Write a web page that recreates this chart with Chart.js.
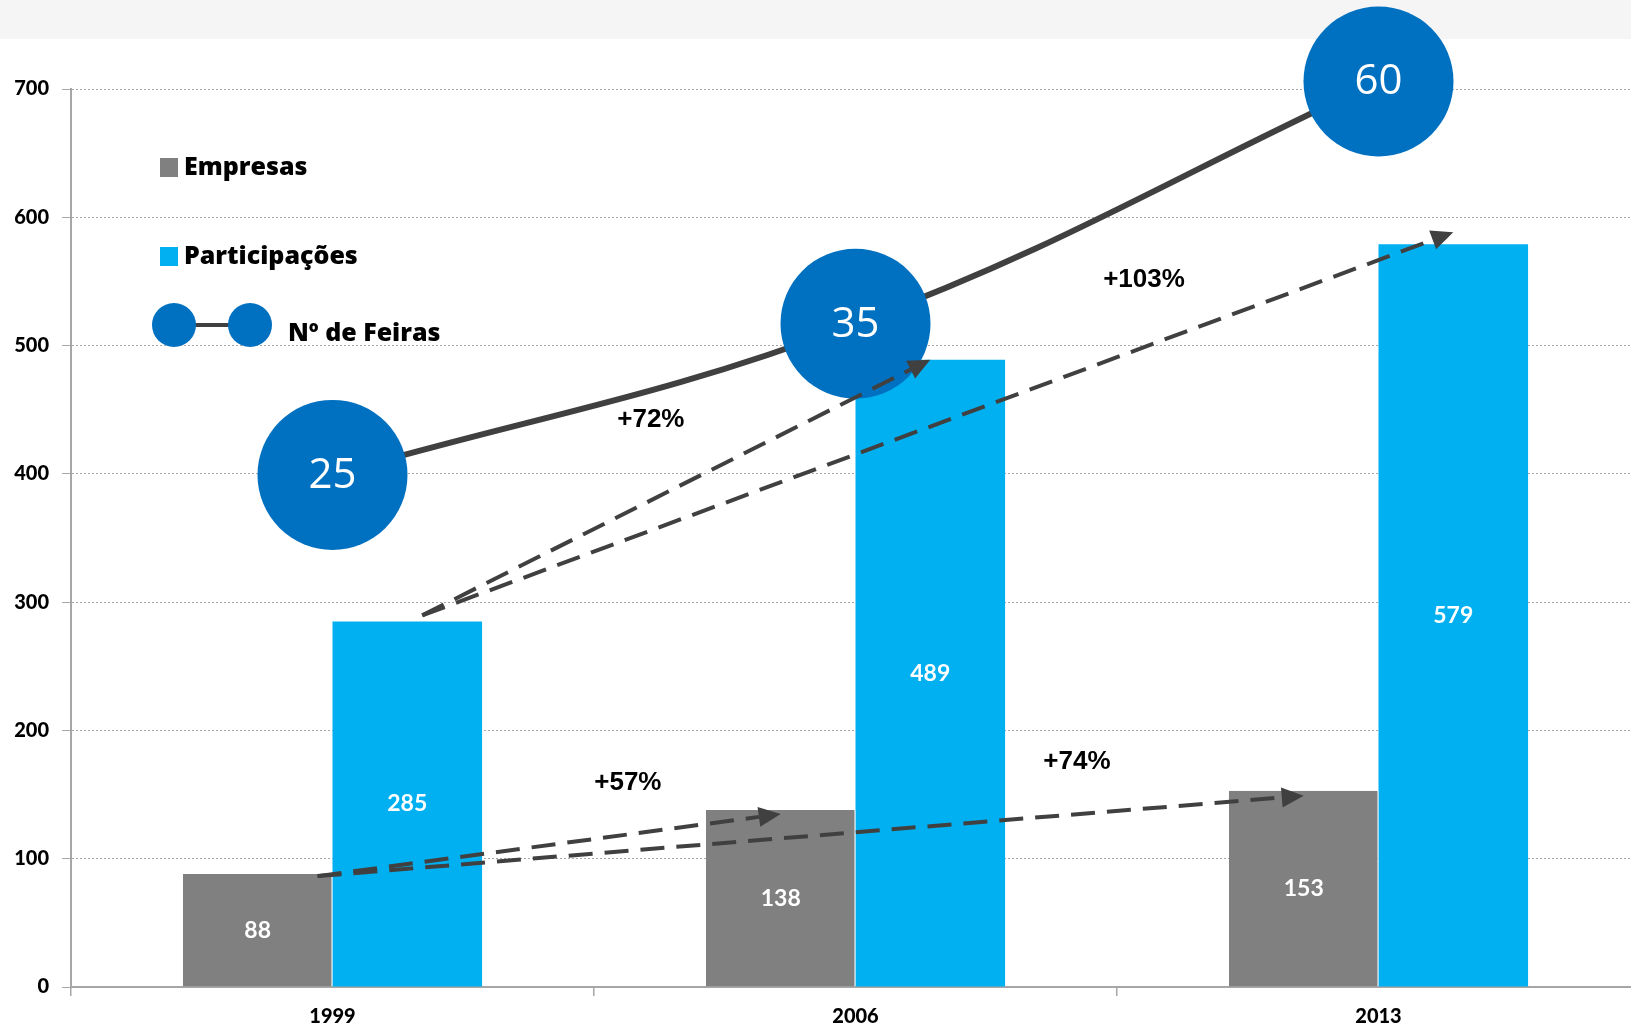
<!DOCTYPE html>
<html>
<head>
<meta charset="utf-8">
<script src="https://cdn.jsdelivr.net/npm/chart.js@4.4.1/dist/chart.umd.min.js"></script>
<style>
    html, body { margin: 0; padding: 0; overflow: hidden; background: #fff; width: 1631px; height: 1028px; }
    #band { position: absolute; left: 0; top: 0; width: 1631px; height: 39px; background: #f5f5f5; }
    #wrap { position: absolute; left: 0; top: 0; width: 1640px; height: 1028px; }
</style>
</head>
<body>
<div id="band"></div>
<div id="wrap"><canvas id="feirasChart"></canvas></div>
<script>
const years = ['1999', '2006', '2013'];
const empresas = [88, 138, 153];
const participacoes = [285, 489, 579];
const feiras = [25, 35, 60];
const yTicks = [0, 100, 200, 300, 400, 500, 600, 700];

const GREY = '#808080';
const BLUE = '#00B0F0';
const DARK_BLUE = '#0070C0';
const LINE = '#404040';

// growth arrows between bars (dataset index, from category, to category) + label placement
const arrows = [
    { ds: 1, from: 0, to: 1, fx: 0.4, sy: 2, ey: 4, t: 0.67, dy: 52 },
    { ds: 1, from: 0, to: 2, fx: 0.4, sy: 2, ey: 5, t: 0.77, dy: 52 },
    { ds: 2, from: 0, to: 1, fx: 0.1, sy: -6, ey: 0, t: 0.45, dy: 80 },
    { ds: 2, from: 0, to: 2, fx: 0.1, sy: -6, ey: -12, t: 0.70, dy: 67 }
];

function drawArrow(ctx, x1, y1, x2, y2) {
    const ang = Math.atan2(y2 - y1, x2 - x1);
    const head = 22, hw = 10;
    const bx = x2 - head * Math.cos(ang);
    const by = y2 - head * Math.sin(ang);
    ctx.save();
    ctx.strokeStyle = LINE;
    ctx.lineWidth = 4;
    ctx.setLineDash([24, 12]);
    ctx.beginPath();
    ctx.moveTo(x1, y1);
    ctx.lineTo(bx, by);
    ctx.stroke();
    ctx.setLineDash([]);
    ctx.fillStyle = LINE;
    ctx.beginPath();
    ctx.moveTo(x2, y2);
    ctx.lineTo(bx + hw * Math.sin(ang), by - hw * Math.cos(ang));
    ctx.lineTo(bx - hw * Math.sin(ang), by + hw * Math.cos(ang));
    ctx.closePath();
    ctx.fill();
    ctx.restore();
}

const overlay = {
    id: 'overlay',
    afterDatasetsDraw(chart) {
        const ctx = chart.ctx;
        ctx.save();
        ctx.textAlign = 'center';
        ctx.textBaseline = 'middle';

        // values inside the bars
        ctx.font = 'bold 23px Lato';
        ctx.fillStyle = '#fff';
        [1, 2].forEach(function (i) {
            chart.getDatasetMeta(i).data.forEach(function (bar, j) {
                ctx.fillText(chart.data.datasets[i].data[j], bar.x, (bar.y + bar.base) / 2);
            });
        });

        // growth arrows
        arrows.forEach(function (a) {
            const bars = chart.getDatasetMeta(a.ds).data;
            const vals = chart.data.datasets[a.ds].data;
            const b0 = bars[a.from], b1 = bars[a.to];
            const x1 = b0.x + a.fx * b0.width, y1 = b0.y + a.sy;
            const x2 = b1.x, y2 = b1.y + a.ey;
            drawArrow(ctx, x1, y1, x2, y2);
            const pct = Math.round((vals[a.to] / vals[a.from] - 1) * 100);
            ctx.font = 'bold 26px "Liberation Sans Narrow", "Liberation Sans"';
            ctx.fillStyle = '#000';
            ctx.fillText('+' + pct + '%', x1 + (x2 - x1) * a.t, y1 + (y2 - y1) * a.t - a.dy);
        });

        // numbers in the bubbles
        ctx.font = '42px "Open Sans"';
        ctx.fillStyle = '#fff';
        chart.getDatasetMeta(0).data.forEach(function (pt, j) {
            ctx.fillText(feiras[j], pt.x, pt.y + 1);
        });
        ctx.restore();
    },
    afterDraw(chart) {
        const ctx = chart.ctx;
        const ds = chart.data.datasets;
        ctx.save();
        ctx.font = '800 25px "Open Sans"';
        ctx.textBaseline = 'alphabetic';
        ctx.textAlign = 'left';

        ctx.fillStyle = ds[1].backgroundColor;
        ctx.fillRect(160, 158, 18, 19);
        ctx.fillStyle = '#000';
        ctx.fillText(ds[1].label, 184, 175);

        ctx.fillStyle = ds[2].backgroundColor;
        ctx.fillRect(160, 247, 18, 19);
        ctx.fillStyle = '#000';
        ctx.fillText(ds[2].label, 184, 264);

        ctx.strokeStyle = LINE;
        ctx.lineWidth = 4;
        ctx.beginPath();
        ctx.moveTo(174, 325);
        ctx.lineTo(250, 325);
        ctx.stroke();
        ctx.fillStyle = DARK_BLUE;
        [174, 250].forEach(function (cx) {
            ctx.beginPath();
            ctx.arc(cx, 325, 22, 0, Math.PI * 2);
            ctx.fill();
        });
        ctx.fillStyle = '#000';
        ctx.fillText(ds[0].label, 288, 341);
        ctx.restore();
    }
};

const tickFont = { family: 'Lato', weight: '900', size: 20 };

new Chart(document.getElementById('feirasChart'), {
    type: 'bar',
    data: {
        labels: years,
        datasets: [
            {
                type: 'line',
                label: 'Nº de Feiras',
                data: feiras,
                yAxisID: 'y2',
                order: 0,
                borderColor: LINE,
                borderWidth: 6,
                tension: 0.4,
                pointRadius: 75,
                pointHoverRadius: 75,
                pointBackgroundColor: DARK_BLUE,
                pointBorderWidth: 0,
                clip: false
            },
            {
                label: 'Empresas',
                data: empresas,
                backgroundColor: GREY,
                borderColor: '#ffffff',
                borderWidth: { right: 1 },
                order: 1,
                categoryPercentage: 0.572,
                barPercentage: 1.0
            },
            {
                label: 'Participações',
                data: participacoes,
                backgroundColor: BLUE,
                order: 1,
                categoryPercentage: 0.572,
                barPercentage: 1.0
            }
        ]
    },
    options: {
        responsive: true,
        maintainAspectRatio: false,
        animation: false,
        layout: { autoPadding: false, padding: { top: 89, left: 0, right: 0, bottom: 0 } },
        plugins: {
            legend: { display: false },
            tooltip: { enabled: false }
        },
        scales: {
            x: {
                grid: { offset: true, drawOnChartArea: false, tickLength: 9, color: '#a6a6a6', lineWidth: 1.5 },
                border: { color: '#a6a6a6', width: 2 },
                ticks: { color: '#000', font: tickFont, padding: 9 },
                afterFit: function (s) { s.height = 41; }
            },
            y: {
                min: 0,
                max: 700,
                afterBuildTicks: function (s) { s.ticks = yTicks.map(v => ({ value: v })); },
                grid: {
                    color: c => c.tick && c.tick.value === 0 ? 'rgba(0,0,0,0)' : '#a8a8a8',
                    tickColor: '#a6a6a6',
                    tickLength: 9,
                    tickBorderDash: [1, 0]
                },
                border: { color: '#a6a6a6', width: 2, dash: [2, 2] },
                ticks: { color: '#000', font: tickFont, padding: 13 },
                afterFit: function (s) { s.width = 71; }
            },
            y2: {
                type: 'logarithmic',
                display: false,
                min: 8,
                max: 59
            }
        }
    },
    plugins: [overlay]
});
</script>
</body>
</html>
